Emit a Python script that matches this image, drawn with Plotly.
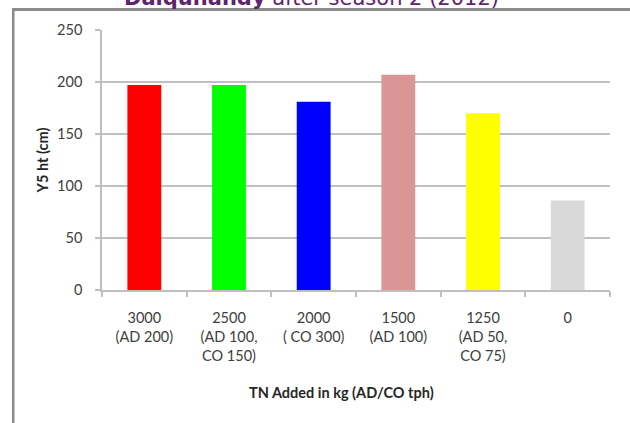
import plotly.graph_objects as go

categories = ["3000", "2500", "2000", "1500", "1250", "0"]
tick_labels = ["3000<br>(AD 200)", "2500<br>(AD 100,<br>CO 150)", "2000<br>( CO 300)",
               "1500<br>(AD 100)", "1250<br>(AD 50,<br>CO 75)", "0"]
heights = [197, 197, 181, 207, 170, 86]
bar_colors = ["#ff0000", "#00ff00", "#0000ff", "#d99694", "#ffff00", "#d9d9d9"]

FONT = "Lato"
TXT = "#404040"
AX = "#bfbfbf"

fig = go.Figure(go.Bar(x=categories, y=heights, marker=dict(color=bar_colors, line=dict(width=0)),
                       hoverinfo="skip"))

fig.update_layout(
    width=630, height=423,
    margin=dict(l=102, r=20, t=30, b=133, autoexpand=False),
    paper_bgcolor="white", plot_bgcolor="white",
    bargap=0.6, showlegend=False,
    font=dict(family=FONT, size=14.5, color=TXT),
)
fig.update_xaxes(
    type="category", tickmode="array", tickvals=categories, ticktext=tick_labels,
    showline=True, linecolor=AX, linewidth=1.5, ticks="outside", tickson="boundaries",
    ticklen=5, tickcolor=AX, tickwidth=1.5, showgrid=False, ticklabelstandoff=14,
    tickfont=dict(family=FONT, size=14.5, color=TXT), automargin=False,
)
fig.update_yaxes(
    range=[0, 250], tickvals=[0, 50, 100, 150, 200, 250],
    showline=True, linecolor=AX, linewidth=1.5, ticks="outside", ticklen=5,
    tickcolor=AX, tickwidth=1.5, showgrid=True, gridcolor="#c0c0c0", gridwidth=1.5,
    zeroline=False, ticklabelstandoff=10, automargin=False,
    tickfont=dict(family=FONT, size=14.5, color=TXT),
    title=dict(text="<b>Y5 ht (cm)</b>", font=dict(family=FONT, size=14.5, color="#262626"), standoff=5),
)

fig.add_annotation(xref="paper", yref="paper", x=0.472, y=-0.396, xanchor="center", yanchor="middle",
                   text="<b>TN Added in kg (AD/CO tph)</b>", showarrow=False,
                   font=dict(family=FONT, size=14.5, color="#262626"))
fig.add_annotation(xref="paper", yref="paper", x=0.040, y=1.069, xanchor="left", yanchor="bottom",
                   text="<b>Dalquhandy</b> after season 2 (2012)", showarrow=False,
                   font=dict(family="DejaVu Sans", size=21, color="#5f2470"))

# slide frame (top and left edges) as thin filled bands inside the page
fig.add_shape(type="rect", xref="paper", yref="paper", x0=-0.1762, x1=1.0394, y0=1.0735, y1=1.0845,
              line=dict(width=0), fillcolor="#8c8c8c", layer="above")
fig.add_shape(type="rect", xref="paper", yref="paper", x0=-0.1772, x1=-0.1722, y0=-0.5115, y1=1.0845,
              line=dict(width=0), fillcolor="#8c8c8c", layer="above")

fig.write_html("out.html", config={"displayModeBar": False},
               post_script="document.body.style.margin='0';document.body.style.overflow='hidden';")
